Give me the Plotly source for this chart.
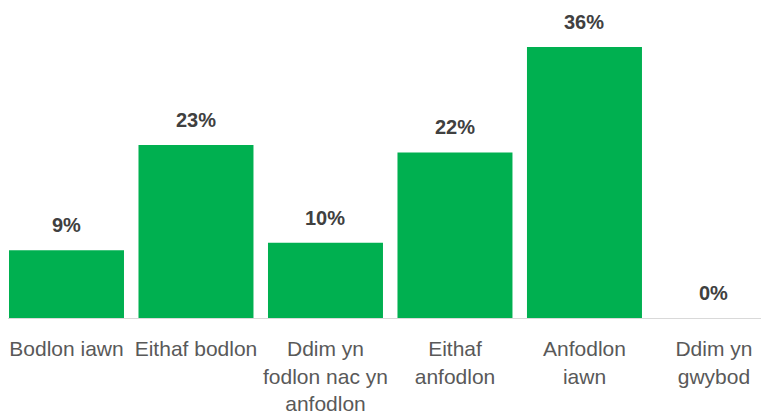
import plotly.graph_objects as go

categories = ["Bodlon iawn", "Eithaf bodlon", "Ddim yn<br>fodlon nac yn<br>anfodlon",
              "Eithaf<br>anfodlon", "Anfodlon<br>iawn", "Ddim yn<br>gwybod"]
values = [9, 23, 10, 22, 36, 0]
labels = ["9%", "23%", "10%", "22%", "36%", "0%"]

x = list(range(len(categories)))

fig = go.Figure()

fig.add_trace(go.Bar(
    x=x,
    y=values,
    width=0.888,
    marker=dict(color="#00B050", line=dict(width=0)),
    hoverinfo="skip"
))

# value labels above the bars
for i, v in enumerate(values):
    fig.add_annotation(
        x=x[i], y=v, text="<b>" + labels[i] + "</b>",
        showarrow=False, yanchor="middle", yshift=25,
        font=dict(family="Liberation Sans, Arial", size=20, color="#404040")
    )

# page body adds an 8px offset, so the figure is sized to fit the window
fig.update_layout(
    width=761,
    height=408,
    margin=dict(l=0, r=0, t=12, b=98, autoexpand=False),
    plot_bgcolor="white",
    paper_bgcolor="white",
    showlegend=False,
    xaxis=dict(
        range=[-0.4517, 5.425],
        tickmode="array",
        tickvals=x,
        ticktext=categories,
        showgrid=False,
        zeroline=False,
        showline=True,
        linecolor="#D9D9D9",
        linewidth=1,
        ticks="",
        automargin=False,
        ticklabelstandoff=12,
        tickfont=dict(family="Liberation Sans, Arial", size=21, color="#595959")
    ),
    yaxis=dict(
        range=[0, 39.6],
        visible=False,
        showgrid=False,
        zeroline=False,
        automargin=False
    )
)

fig.write_html("out.html")
